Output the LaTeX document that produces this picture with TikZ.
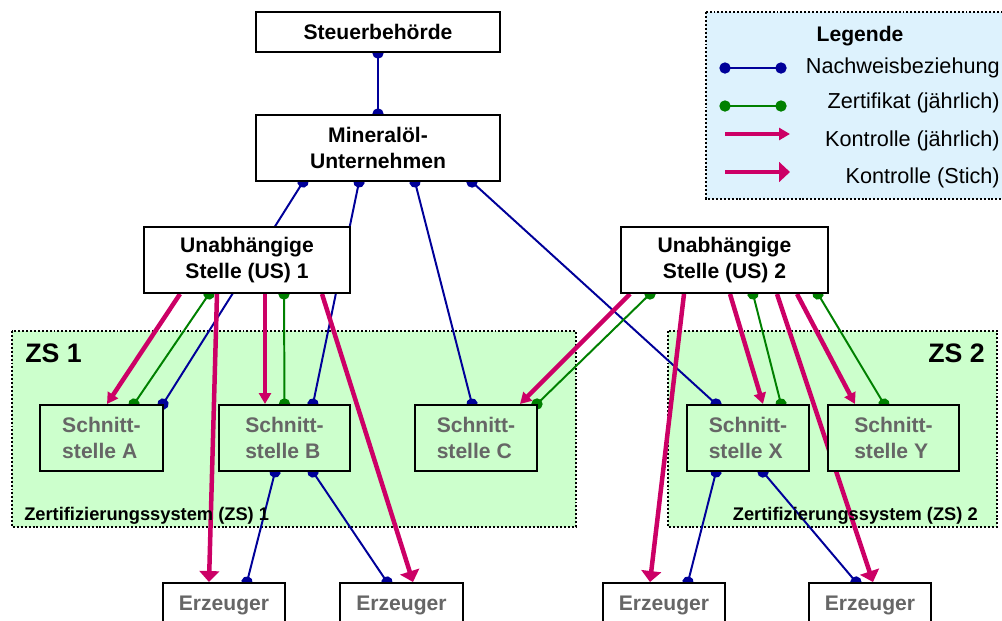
\documentclass[tikz,border=0pt]{standalone}
\usepackage{fontspec}
\setmainfont{Liberation Sans}
\usetikzlibrary{arrows.meta,calc}

\definecolor{nwblau}{HTML}{000099}
\definecolor{zertgruen}{HTML}{008000}
\definecolor{kontrot}{HTML}{CC0066}
\definecolor{zsgruen}{HTML}{CCFFCC}
\definecolor{leghell}{HTML}{DDF2FD}
\definecolor{boxgrau}{HTML}{666666}

\pgfdeclarelayer{zone}
\pgfdeclarelayer{wire}
\pgfsetlayers{zone,wire,main}

\tikzset{
  kasten/.style={draw, line width=1.4pt, fill=white, inner sep=0pt,
    font=\fontsize{15}{18.5}\selectfont\bfseries, align=center},
  stelle/.style={kasten, fill=zsgruen, text=boxgrau, align=left, minimum height=1.65cm},
  erzeuger/.style={kasten, text=boxgrau, minimum width=3.06cm, minimum height=1.1cm},
  nachweis/.style={draw=nwblau, line width=1.4pt,
    {Circle[length=8pt,width=8pt]}-{Circle[length=8pt,width=8pt]}, shorten <=-4pt, shorten >=-4pt},
  zert/.style={nachweis, draw=zertgruen},
  kontr/.style={draw=kontrot, line width=3.2pt, -{Triangle[length=7.8pt,width=8.5pt]}},
  stich/.style={draw=kontrot, line width=3.2pt, -{Triangle[length=7.8pt,width=14pt]}},
  gebiet/.style={draw, line width=1.4pt, dash pattern=on 1.4pt off 1.4pt},
  legtext/.style={inner sep=0pt, font=\fontsize{15.4}{18}\selectfont},
}

\begin{document}
\begin{tikzpicture}[x=0.025cm, y=-0.025cm]
    \useasboundingbox (0,0) rectangle (1002,620);

    % Zertifizierungssysteme und Legende
    \begin{pgfonlayer}{zone}
    \filldraw[gebiet, fill=zsgruen] (12,331) rectangle (576,527);
    \filldraw[gebiet, fill=zsgruen] (668,331) rectangle (997,527);
    \filldraw[gebiet, fill=leghell] (706,12) rectangle (1010,199);
    \end{pgfonlayer}
    \node[inner sep=0pt, anchor=base west, font=\fontsize{19}{19}\selectfont\bfseries] (zs1) at (25,362) {ZS 1};
    \node[inner sep=0pt, anchor=base east, font=\fontsize{19}{19}\selectfont\bfseries] (zs2) at (985,362) {ZS 2};
    \node[inner sep=0pt, anchor=base west, font=\fontsize{13}{13}\selectfont\bfseries] (zs1name) at (24,520) {Zertifizierungssystem (ZS) 1};
    \node[inner sep=0pt, anchor=base east, font=\fontsize{13}{13}\selectfont\bfseries] (zs2name) at (978,520) {Zertifizierungssystem (ZS) 2};

    % Stellen
    \node[kasten, minimum width=6.1cm, minimum height=1cm] (steuer) at (378,32) {Steuerbehörde};
    \node[kasten, minimum width=6.1cm, minimum height=1.65cm] (mu) at (378,148) {Mineralöl-\\Unternehmen};
    \node[kasten, minimum width=5.15cm, minimum height=1.65cm] (us1) at (247,260) {Unabhängige\\Stelle (US) 1};
    \node[kasten, minimum width=5.175cm, minimum height=1.65cm] (us2) at (724.5,260) {Unabhängige\\Stelle (US) 2};
    \node[stelle, minimum width=3.075cm] (sa) at (101.5,438) {Schnitt-\\stelle A};
    \node[stelle, minimum width=3.275cm] (sb) at (284.5,438) {Schnitt-\\stelle B};
    \node[stelle, minimum width=3.05cm] (sc) at (476,438) {Schnitt-\\stelle C};
    \node[stelle, minimum width=3.05cm] (sx) at (748,438) {Schnitt-\\stelle X};
    \node[stelle, minimum width=3.275cm] (sy) at (893.5,438) {Schnitt-\\stelle Y};
    \node[erzeuger] (e1) at (224,605) {Erzeuger};
    \node[erzeuger] (e2) at (401.5,605) {Erzeuger};
    \node[erzeuger] (e3) at (664,605) {Erzeuger};
    \node[erzeuger] (e4) at (870,605) {Erzeuger};

    \begin{pgfonlayer}{wire}
    % Nachweisbeziehungen
    \draw[nachweis] (steuer.south) -- (mu.north);
    \draw[nachweis] ($(mu.south)+(-75,0)$) -- ($(sa.north)+(61.5,0)$);
    \draw[nachweis] ($(mu.south)+(-19,0)$) -- ($(sb.north)+(28.5,0)$);
    \draw[nachweis] ($(mu.south)+(37,0)$) -- ($(sc.north)+(-4,0)$);
    \draw[nachweis] ($(mu.south)+(94,0)$) -- ($(sx.north)+(-32,0)$);
    \draw[nachweis] ($(sb.south)+(-9.5,0)$) -- ($(e1.north)+(23,0)$);
    \draw[nachweis] ($(sb.south)+(28.5,0)$) -- ($(e2.north)+(-14.5,0)$);
    \draw[nachweis] ($(sx.south)+(-32,0)$) -- ($(e3.north)+(24,0)$);
    \draw[nachweis] ($(sx.south)+(15,0)$) -- ($(e4.north)+(-14,0)$);
    % Zertifikate
    \draw[zert] ($(us1.south)+(-38,0)$) -- ($(sa.north)+(32.5,0)$);
    \draw[zert] ($(us1.south)+(37,0)$) -- ($(sb.north)+(0,0)$);
    \draw[zert] ($(us2.south)+(-74.5,0)$) -- ($(sc.north)+(61,0)$);
    \draw[zert] ($(us2.south)+(28.5,0)$) -- ($(sx.north)+(33,0)$);
    \draw[zert] ($(us2.south)+(93.5,0)$) -- ($(sy.north)+(-9.5,0)$);
    % Kontrollen
    \draw[kontr] ($(us1.south)+(-67,0)$) -- ($(sa.north)+(5.5,0)$);
    \draw[stich] ($(us1.south)+(-30,0)$) -- ($(e1.north)+(-15,0)$);
    \draw[kontr] ($(us1.south)+(18,0)$) -- ($(sb.north)+(-19.5,0)$);
    \draw[stich] ($(us1.south)+(75,0)$) -- ($(e2.north)+(11.5,0)$);
    \draw[kontr] ($(us2.south)+(-94.5,0)$) -- ($(sc.north)+(44,0)$);
    \draw[stich] ($(us2.south)+(-40.5,0)$) -- ($(e3.north)+(-14,0)$);
    \draw[kontr] ($(us2.south)+(5.5,0)$) -- ($(sx.north)+(15,0)$);
    \draw[stich] ($(us2.south)+(52.5,0)$) -- ($(e4.north)+(3,0)$);
    \draw[kontr] ($(us2.south)+(72.5,0)$) -- ($(sy.north)+(-38.5,0)$);
    \end{pgfonlayer}

    % Legende
    \node[legtext, anchor=base, font=\fontsize{15}{18}\selectfont\bfseries] (legtitel) at (860,41) {Legende};
    \coordinate (n1) at (725,68);  \coordinate (n2) at (781,68);
    \coordinate (z1) at (725,106); \coordinate (z2) at (781,106);
    \coordinate (k1) at (725,134); \coordinate (k2) at (790,134);
    \coordinate (s1) at (725,172); \coordinate (s2) at (790,172);
    \draw[nachweis] (n1) -- (n2);
    \draw[zert] (z1) -- (z2);
    \draw[kontr] (k1) -- (k2);
    \draw[stich] (s1) -- (s2);
    \node[legtext, anchor=base east] (ntext) at (1000,73) {Nachweisbeziehung};
    \node[legtext, anchor=base east] (ztext) at (1000,108) {Zertifikat (jährlich)};
    \node[legtext, anchor=base east] (ktext) at (1000,146) {Kontrolle (jährlich)};
    \node[legtext, anchor=base east] (stext) at (1000,183) {Kontrolle (Stich)};
\end{tikzpicture}
\end{document}
